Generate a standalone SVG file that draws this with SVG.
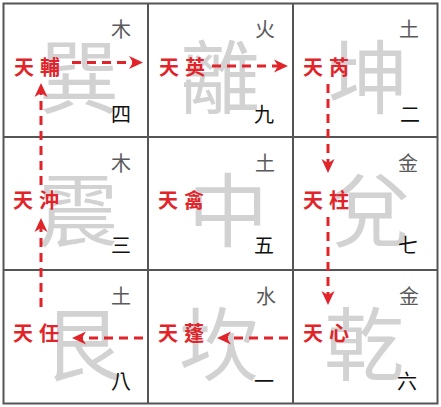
<svg xmlns="http://www.w3.org/2000/svg" width="441" height="407" viewBox="0 0 441 407">
<style>
.bg{font-family:"Noto Sans CJK TC","Noto Sans CJK SC",sans-serif;font-size:80px;fill:#d2d2d2;text-anchor:middle}
.el{font-family:"Noto Sans CJK TC","Noto Sans CJK SC",sans-serif;font-size:20px;fill:#5a5a5a;text-anchor:middle}
.num{font-family:"Noto Sans CJK TC","Noto Sans CJK SC",sans-serif;font-size:20px;fill:#111;text-anchor:middle}
.star{font-family:"Noto Sans CJK TC","Noto Sans CJK SC",sans-serif;font-size:20px;fill:#e0242a;font-weight:bold;letter-spacing:6px}
.grid{stroke:#555;stroke-width:2;fill:none}
.arr{stroke:#e0242a;stroke-width:3;fill:none;stroke-dasharray:9 6;marker-end:url(#ah)}
</style>
<defs>
<marker id="ah" markerUnits="userSpaceOnUse" markerWidth="16" markerHeight="14" refX="6" refY="7" orient="auto">
<path d="M0,0.5 L14,7 L0,13.5 L4,7 Z" fill="#e0242a"/>
</marker>
</defs>
<rect x="0" y="0" width="441" height="407" fill="#fff"/>
<g id="grid">
<rect class="grid" x="3.5" y="3.5" width="434" height="400"/>
<line class="grid" x1="148" y1="3" x2="148" y2="404"/>
<line class="grid" x1="293" y1="3" x2="293" y2="404"/>
<line class="grid" x1="3" y1="137" x2="438" y2="137"/>
<line class="grid" x1="3" y1="270" x2="438" y2="270"/>
</g>
<g id="cell-xun">
<text class="bg" x="79" y="107">巽</text>
<text class="el" x="121" y="37">木</text>
<text class="num" x="121" y="122">四</text>
<text class="star" x="14" y="75">天輔</text>
</g>
<g id="cell-li">
<text class="bg" x="220" y="107">離</text>
<text class="el" x="265" y="37">火</text>
<text class="num" x="264" y="122">九</text>
<text class="star" x="159" y="75">天英</text>
</g>
<g id="cell-kun">
<text class="bg" x="368" y="107">坤</text>
<text class="el" x="409" y="37">土</text>
<text class="num" x="410" y="122">二</text>
<text class="star" x="303" y="75">天芮</text>
</g>
<g id="cell-zhen">
<text class="bg" x="78" y="240">震</text>
<text class="el" x="121" y="171">木</text>
<text class="num" x="121" y="253">三</text>
<text class="star" x="13" y="208">天沖</text>
</g>
<g id="cell-zhong">
<text class="bg" x="228" y="240">中</text>
<text class="el" x="265" y="171">土</text>
<text class="num" x="264" y="253">五</text>
<text class="star" x="158" y="208">天禽</text>
</g>
<g id="cell-dui">
<text class="bg" x="370" y="240">兌</text>
<text class="el" x="408" y="171">金</text>
<text class="num" x="408" y="253">七</text>
<text class="star" x="303" y="208">天柱</text>
</g>
<g id="cell-gen">
<text class="bg" x="83" y="374">艮</text>
<text class="el" x="121" y="304">土</text>
<text class="num" x="121" y="389">八</text>
<text class="star" x="13" y="341">天任</text>
</g>
<g id="cell-kan">
<text class="bg" x="219" y="374">坎</text>
<text class="el" x="266" y="304">水</text>
<text class="num" x="264" y="389">一</text>
<text class="star" x="158" y="341">天蓬</text>
</g>
<g id="cell-qian">
<text class="bg" x="364" y="374">乾</text>
<text class="el" x="409" y="304">金</text>
<text class="num" x="407" y="389">六</text>
<text class="star" x="303" y="341">天心</text>
</g>
<g id="connectors">
<line class="arr" x1="72" y1="62.5" x2="135" y2="62.5"/>
<line class="arr" x1="212" y1="66" x2="280" y2="66"/>
<line class="arr" x1="328" y1="84" x2="328" y2="165"/>
<line class="arr" x1="328" y1="217" x2="328" y2="297"/>
<line class="arr" x1="288" y1="338" x2="225" y2="338"/>
<line class="arr" x1="143" y1="338" x2="80" y2="338"/>
<line class="arr" x1="41" y1="307" x2="41" y2="226"/>
<line class="arr" x1="41" y1="185" x2="41" y2="91"/>
</g>
</svg>
